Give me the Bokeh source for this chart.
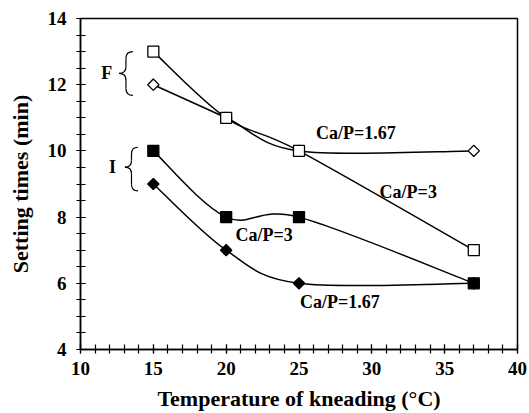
import math
from bokeh.plotting import figure
from bokeh.models import Range1d, SingleIntervalTicker, Label
from bokeh.embed import file_html
from bokeh.resources import INLINE

# ---- data ----
temps = [15, 20, 25, 37]
f_cap3 = [13, 11, 10, 7]        # open squares (F, Ca/P=3)
f_cap167 = [12, 11, 10, 10]     # open diamonds (F, Ca/P=1.67)
i_cap3 = [10, 8, 8, 6]          # filled squares (I, Ca/P=3)
i_cap167 = [9, 7, 6, 6]         # filled diamonds (I, Ca/P=1.67)

x_ticks = [10, 15, 20, 25, 30, 35, 40]
y_ticks = [4, 6, 8, 10, 12, 14]

FONT = "'Liberation Serif', serif"

p = figure(width=529, height=413, output_backend="svg", toolbar_location=None,
           x_range=Range1d(10, 40), y_range=Range1d(4, 14),
           min_border_left=80, min_border_right=12, min_border_top=18, min_border_bottom=62)
p.background_fill_color = "white"
p.border_fill_color = "white"
p.xgrid.visible = False
p.ygrid.visible = False
p.outline_line_color = "black"
p.outline_line_width = 1.5
p.outline_line_alpha = 1.0

p.xaxis.ticker = SingleIntervalTicker(interval=5, num_minor_ticks=5)
p.yaxis.ticker = SingleIntervalTicker(interval=2, num_minor_ticks=4)
p.axis.axis_line_width = 1.5
p.axis.major_tick_line_width = 1.2
p.axis.minor_tick_line_width = 1.2
p.axis.major_tick_in = 5
p.axis.major_tick_out = 4
p.axis.minor_tick_in = 5
p.axis.minor_tick_out = 4
p.axis.major_label_text_font = FONT
p.axis.major_label_text_font_style = "bold"
p.axis.major_label_text_font_size = "19px"
p.axis.major_label_text_color = "black"
p.axis.axis_label_text_font = FONT
p.axis.axis_label_text_font_style = "bold"
p.axis.axis_label_text_font_size = "22px"
p.axis.axis_label_text_color = "black"

p.xaxis.major_label_standoff = 8
p.yaxis.major_label_standoff = 10
p.xaxis.axis_label = "Temperature of kneading (°C)"
p.yaxis.axis_label = "Setting times (min)"
p.xaxis.axis_label_standoff = 8
p.yaxis.axis_label_standoff = 12


def smooth(xs, ys):
    """Excel-style smoothed line: cubic Bezier segments with Catmull-Rom control points."""
    n = len(xs)
    seg = dict(x0=[], y0=[], x1=[], y1=[], cx0=[], cy0=[], cx1=[], cy1=[])
    for i in range(n - 1):
        a = max(i - 1, 0)
        d = min(i + 2, n - 1)
        seg["x0"].append(xs[i]); seg["y0"].append(ys[i])
        seg["x1"].append(xs[i + 1]); seg["y1"].append(ys[i + 1])
        seg["cx0"].append(xs[i] + (xs[i + 1] - xs[a]) / 6)
        seg["cy0"].append(ys[i] + (ys[i + 1] - ys[a]) / 6)
        seg["cx1"].append(xs[i + 1] - (xs[d] - xs[i]) / 6)
        seg["cy1"].append(ys[i + 1] - (ys[d] - ys[i]) / 6)
    return seg


for ys in (f_cap3, f_cap167, i_cap3, i_cap167):
    p.bezier(line_color="black", line_width=1.5, **smooth(temps, ys))

rot = math.pi / 4
p.scatter(temps, f_cap167, marker="square", angle=rot, size=8, fill_color="white", line_color="black", line_width=1.3)
p.scatter(temps, f_cap3, marker="square", size=11, fill_color="white", line_color="black", line_width=1.3)
p.scatter(temps, i_cap167, marker="square", angle=rot, size=8, fill_color="black", line_color="black", line_width=1.3)
p.scatter(temps, i_cap3, marker="square", size=11, fill_color="black", line_color="black", line_width=1.3)


def brace(xt, xs, xe, yt, ym, yb, r):
    # "{" shaped bracket: tip at xt, spine at xs, ends at xe
    q = dict(x0=[xe, xs, xs, xe], y0=[yt, ym + r, ym - r, yb],
             x1=[xs, xt, xt, xs], y1=[yt - r, ym, ym, yb + r],
             cx=[xs, xs, xs, xs], cy=[yt, ym, ym, yb])
    p.quadratic(line_color="black", line_width=1.2, **q)
    p.segment(x0=[xs, xs], y0=[yt - r, ym - r], x1=[xs, xs], y1=[ym + r, yb + r],
              line_color="black", line_width=1.2)


brace(12.65, 13.12, 13.60, 13.0, 12.34, 11.68, 0.2)
brace(13.05, 13.50, 13.95, 10.11, 9.51, 8.79, 0.2)

labels = [
    ("F", 11.8, 12.34),
    ("I", 12.2, 9.51),
    ("Ca/P=1.67", 28.9, 10.55),
    ("Ca/P=3", 32.5, 8.76),
    ("Ca/P=3", 22.6, 7.46),
    ("Ca/P=1.67", 27.8, 5.42),
]
for t, x, y in labels:
    p.add_layout(Label(x=x, y=y, text=t, text_align="center", text_baseline="middle",
                       text_font=FONT, text_font_style="bold", text_font_size="18px",
                       text_color="black"))

open("out.html", "w").write(file_html(p, INLINE))
